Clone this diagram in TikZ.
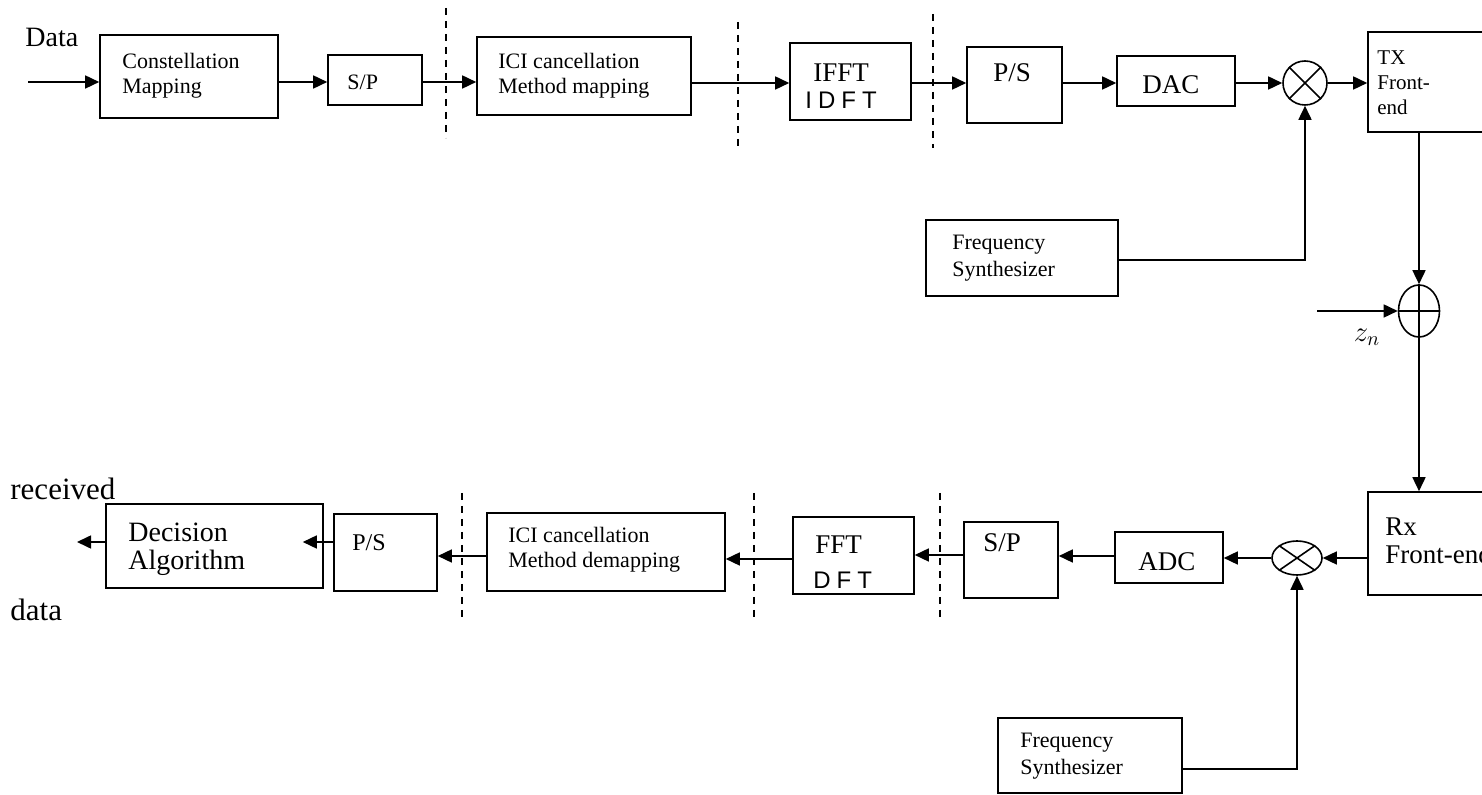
\documentclass[tikz,border=0pt]{standalone}
\usepackage{fontspec}
\setmainfont{Liberation Serif}
\newfontfamily\handfont[LetterSpace=25]{Liberation Sans}
\usetikzlibrary{arrows.meta,shapes.geometric}

\tikzset{
  blk/.style={draw,line width=0.8pt,inner sep=0pt},
  arr/.style={-{Triangle[length=7pt,width=6.5pt]},line width=0.8pt},
  wire/.style={line width=0.8pt},
  sep/.style={line width=0.9pt,dash pattern=on 3.5pt off 3pt},
  sm/.style={anchor=west,inner sep=0pt,align=left,font=\fontsize{11}{12.5}\selectfont},
  lg/.style={anchor=west,inner sep=0pt,align=left,font=\fontsize{13.5}{14}\selectfont},
  big/.style={anchor=west,inner sep=0pt,font=\fontsize{15.5}{17}\selectfont},
  hand/.style={anchor=west,inner sep=0pt,font=\handfont\fontsize{12}{14}\selectfont},
}

\begin{document}
\begin{tikzpicture}[x=0.5pt,y=-0.5pt]
            \useasboundingbox (0,0) rectangle (1482,795);
            \clip (0,0) rectangle (1482,795);
            \node[blk,minimum width=89pt,minimum height=41.5pt] (cm) at (189,76.5) {};
            \node[blk,minimum width=47pt,minimum height=25pt] (spt) at (375,80) {};
            \node[blk,minimum width=107pt,minimum height=39pt] (icim) at (584,76) {};
            \node[blk,minimum width=60.5pt,minimum height=38.5pt] (ifft) at (850.5,81.5) {};
            \node[blk,minimum width=47.5pt,minimum height=38pt] (pst) at (1014.5,85) {};
            \node[blk,minimum width=59pt,minimum height=25pt] (dac) at (1176,81) {};
            \node[blk,circle,minimum size=22pt] (mixt) at (1305,83) {};
            \node[blk,minimum width=86pt,minimum height=50pt] (tx) at (1454,82) {};
            \node[blk,minimum width=96pt,minimum height=38pt] (fst) at (1022,258) {};
            \node[blk,ellipse,minimum width=20.5pt,minimum height=26pt] (add) at (1419,311) {};
            \node[blk,minimum width=86pt,minimum height=51.5pt] (rx) at (1454,543.5) {};
            \node[blk,ellipse,minimum width=25pt,minimum height=17pt] (mixb) at (1297,558) {};
            \node[blk,minimum width=54pt,minimum height=25.5pt] (adc) at (1169,557.5) {};
            \node[blk,minimum width=47pt,minimum height=38pt] (spb) at (1011,560) {};
            \node[blk,minimum width=60.5pt,minimum height=38.5pt] (fft) at (853.5,555.5) {};
            \node[blk,minimum width=119pt,minimum height=39pt] (icid) at (606,552) {};
            \node[blk,minimum width=51.5pt,minimum height=38.5pt] (psb) at (385.5,552.5) {};
            \node[blk,minimum width=108.5pt,minimum height=42pt] (dec) at (214.5,546) {};
            \node[blk,minimum width=92pt,minimum height=37.5pt] (fsb) at (1090,755.5) {};

            \node[anchor=west,inner sep=0pt,font=\fontsize{14}{16}\selectfont] (ldata) at (25,37) {Data};
            \node[big] (lrec) at (10,489) {received};
            \node[big] (lout) at (10,610) {data};
            \node[sm] (tcm) at (122,75.5) {Constellation\\Mapping};
            \node[sm] (tspt) at (347,82) {S/P};
            \node[sm] (ticim) at (498,75.5) {ICI cancellation\\Method mapping};
            \node[lg] (tifft) at (813,73) {IFFT};
            \node[hand] (tidft) at (805,100) {IDFT};
            \node[lg] (tpst) at (993,73) {P/S};
            \node[lg] (tdac) at (1142,85) {DAC};
            \node[sm,font=\fontsize{10.5}{12.5}\selectfont] (ttx) at (1377,83) {TX\\Front-\\end};
            \node[sm,font=\fontsize{11}{13.5}\selectfont] (tfst) at (952,258.5) {Frequency\\Synthesizer};
            \node[inner sep=0pt,font=\fontsize{14}{16}\selectfont] (tzn) at (1367,337) {$z_n$};
            \node[lg] (trx) at (1385,541) {Rx\\Front-end};
            \node[lg] (tadc) at (1138,562) {ADC};
            \node[lg] (tspb) at (983,543) {S/P};
            \node[lg] (tfft) at (815,545) {FFT};
            \node[hand] (tdft) at (813,580) {DFT};
            \node[sm] (ticid) at (508,550) {ICI cancellation\\Method demapping};
            \node[lg,font=\fontsize{12}{14}\selectfont] (tpsb) at (352,543) {P/S};
            \node[lg,font=\fontsize{14}{14}\selectfont] (tdec) at (128,549) {Decision\\Algorithm};
            \node[sm,font=\fontsize{11}{13.5}\selectfont] (tfsb) at (1020,756) {Frequency\\Synthesizer};

            \coordinate (din) at (28,82);
            \draw[arr] (din) -- (cm.west |- din);
            \draw[arr] (cm.east |- 0,82) -- (spt.west |- 0,82);
            \draw[arr] (spt.east |- 0,82) -- (icim.west |- 0,82);
            \draw[arr] (icim.east |- 0,83) -- (ifft.west |- 0,83);
            \draw[arr] (ifft.east |- 0,83) -- (pst.west |- 0,83);
            \draw[arr] (pst.east |- 0,83) -- (dac.west |- 0,83);
            \draw[arr] (dac.east |- 0,83) -- (mixt.west);
            \draw[arr] (mixt.east) -- (tx.west |- mixt);
            \draw[wire] (mixt.north west) -- (mixt.south east) (mixt.north east) -- (mixt.south west);
            \draw[arr] (fst.east |- 0,260) -| (mixt.south);
            \draw[arr] (add |- tx.south) -- (add.north);
            \coordinate (zin) at (1317,311);
            \draw[arr] (zin) -- (add.west);
            \draw[wire] (add.north) -- (add.south) (add.west) -- (add.east);
            \draw[arr] (add.south) -- (add |- rx.north);
            \draw[arr] (rx.west |- mixb) -- (mixb.east);
            \draw[wire] (mixb.north west) -- (mixb.south east) (mixb.north east) -- (mixb.south west);
            \draw[arr] (fsb.east |- 0,769) -| (mixb.south);
            \draw[arr] (mixb.west) -- (adc.east |- mixb);
            \draw[arr] (adc.west |- 0,556) -- (spb.east |- 0,556);
            \draw[arr] (spb.west |- 0,555) -- (fft.east |- 0,555);
            \draw[arr] (fft.west |- 0,559) -- (icid.east |- 0,559);
            \draw[arr] (icid.west |- 0,556) -- (psb.east |- 0,556);
            \draw[arr,shorten >=-10.5pt] (psb.west |- 0,542) -- (dec.east |- 0,542);
            \coordinate (dout) at (77,542);
            \draw[arr] (dec.west |- dout) -- (dout);

            \draw[sep] (446,8) -- (446,138);
            \draw[sep] (738,22) -- (738,150);
            \draw[sep] (933,14) -- (933,148);
            \draw[sep] (462,493) -- (462,618);
            \draw[sep] (754,493) -- (754,618);
            \draw[sep] (940,493) -- (940,618);
        \end{tikzpicture}
\end{document}
